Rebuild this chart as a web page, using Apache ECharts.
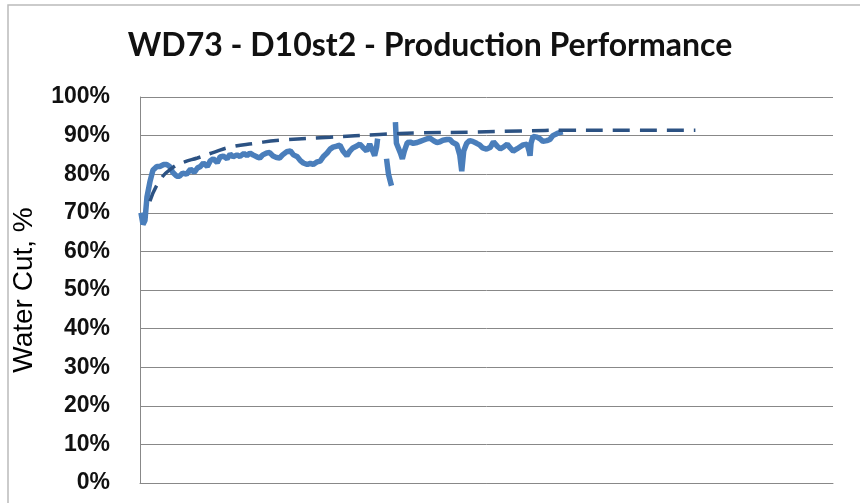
<!DOCTYPE html>
<html>
<head>
<meta charset="utf-8">
<script src="https://cdn.jsdelivr.net/npm/echarts@6/dist/echarts.min.js"></script>
<style>
  html, body { margin: 0; padding: 0; background: #fff; }
  #main { width: 860px; height: 503px; }
</style>
</head>
<body>
<div id="main"></div>
<script>
// 数据：时间序列（天）与含水率
var wcDays = [1, 3, 5, 7, 10, 13, 17, 20, 24, 27, 30, 33, 37, 40, 43, 47, 51, 55, 58, 61,
  64, 68, 71, 74, 78, 81, 84, 88, 91, 94, 98, 101, 105, 108, 111, 114, 118, 121, 124, 128,
  131, 134, 138, 141, 144, 148, 152, 155, 159, 162, 165, 169, 172, 175, 179, 182, 185, 189,
  192, 195, 199, 202, 205, 209, 212, 215, 219, 222, 225, 229, 232, 235, 237, 239, 240,
  244, 249, 251, 254, 256,
  258, 259, 260, 263, 265, 267, 270, 273, 276, 280, 283, 286, 290, 293, 297, 300, 303, 306,
  310, 313, 316, 320, 323, 325, 327, 330, 333, 336, 340, 343, 346, 350, 354, 357, 361, 364,
  367, 371, 374, 377, 381, 384, 387, 391, 393, 394, 395, 397, 401, 404, 407, 411, 414, 417,
  421, 424, 427];
var wcValues = [70, 67, 68, 74, 78, 81, 82, 82, 82.5, 82.5, 82, 80.5, 79.5, 79.5, 80.3, 80, 81.3, 80.5, 81.6, 82,
  82.9, 82, 83.5, 84, 83, 84.5, 84.7, 84, 85.2, 84.5, 85, 84.6, 85.4, 84.8, 85.5, 85, 84.5, 84.2, 85, 85.5,
  85.6, 84.8, 84.3, 84.2, 85, 85.8, 86, 85, 84.5, 83.5, 82.9, 82.5, 82.8, 82.5, 83.2, 83.4, 84.5, 85.5,
  86.5, 87, 87.3, 87.5, 86, 84.8, 86, 86.8, 87.3, 87.8, 87, 86, 87.8, 86, 84.8, 87, 89.2,
  null, 84, 80, 77, null,
  93.5, 88, 87.5, 85.5, 84, 86, 88.2, 88.3, 88, 88.2, 88.5, 88.8, 89.2, 89.3, 88.6, 88.2, 88.4, 88.8,
  89, 89, 88.2, 87.7, 85, 80.8, 86, 88, 88.7, 88.5, 88, 87.6, 86.8, 86.5, 87, 88.4, 87.2, 86.6,
  87, 87.8, 86.8, 86, 86.6, 87.1, 87.6, 87.8, 86, 84.8, 88, 89.8, 89.6, 89.2, 88.5, 88.7, 89, 90,
  90.5, 90.8, 91];

// 趋势线
var trendDays = [10, 20, 33, 45, 58, 76, 91, 116, 141, 192, 242, 283, 333, 384, 434, 495, 561];
var trendValues = [73, 78.4, 81.7, 83.2, 84.2, 85.8, 87, 88, 88.8, 89.6, 90.3, 90.7, 90.9, 91.2, 91.4, 91.4, 91.4];

var yTicks = [0, 10, 20, 30, 40, 50, 60, 70, 80, 90, 100];

function pairs(xs, ys) {
  return xs.map(function (x, i) { return [x, ys[i] === null ? '-' : ys[i]]; });
}

var myChart = echarts.init(document.getElementById('main'));

var option = {
  backgroundColor: '#fff',
  animation: false,
  title: {
    text: 'WD73 - D10st2 - Production Performance',
    left: 'center',
    top: 25,
    textStyle: { fontFamily: 'Lato', fontSize: 32, fontWeight: 'bold', color: '#111' }
  },
  graphic: [{
    type: 'rect',
    shape: { x: 8, y: 5, width: 900, height: 600 },
    style: { fill: 'none', stroke: '#bbb', lineWidth: 1.5 },
    silent: true
  }],
  grid: { left: 140, right: 27, top: 97, bottom: 20 },
  xAxis: {
    type: 'value',
    min: 0,
    max: 700,
    axisLine: { show: true, lineStyle: { color: '#888', width: 1 } },
    axisTick: { show: false },
    axisLabel: { show: false },
    splitLine: { show: false }
  },
  yAxis: {
    type: 'value',
    min: yTicks[0],
    max: yTicks[yTicks.length - 1],
    interval: 10,
    name: 'Water Cut, %',
    nameLocation: 'middle',
    nameGap: 102,
    nameTextStyle: { fontFamily: 'Liberation Sans', fontSize: 28, color: '#000' },
    axisLine: { show: true, lineStyle: { color: '#888', width: 1 } },
    axisTick: { show: false },
    axisLabel: {
      formatter: '{value}%',
      margin: 30,
      fontFamily: 'Liberation Sans',
      fontWeight: 'bold',
      fontSize: 23,
      color: '#111'
    },
    splitLine: { show: true, lineStyle: { color: '#888', width: 1 } }
  },
  series: [{
    name: 'Water Cut',
    type: 'line',
    data: pairs(wcDays, wcValues),
    showSymbol: false,
    connectNulls: false,
    lineStyle: { color: '#4a7ebb', width: 5.5 },
    itemStyle: { color: '#4a7ebb' },
    z: 3
  }, {
    name: 'Trend',
    type: 'line',
    data: pairs(trendDays, trendValues),
    smooth: true,
    showSymbol: false,
    lineStyle: { color: '#2c5283', width: 3.5, type: [17, 10] },
    itemStyle: { color: '#2c5283' },
    z: 4
  }]
};

myChart.setOption(option);
</script>
</body>
</html>
